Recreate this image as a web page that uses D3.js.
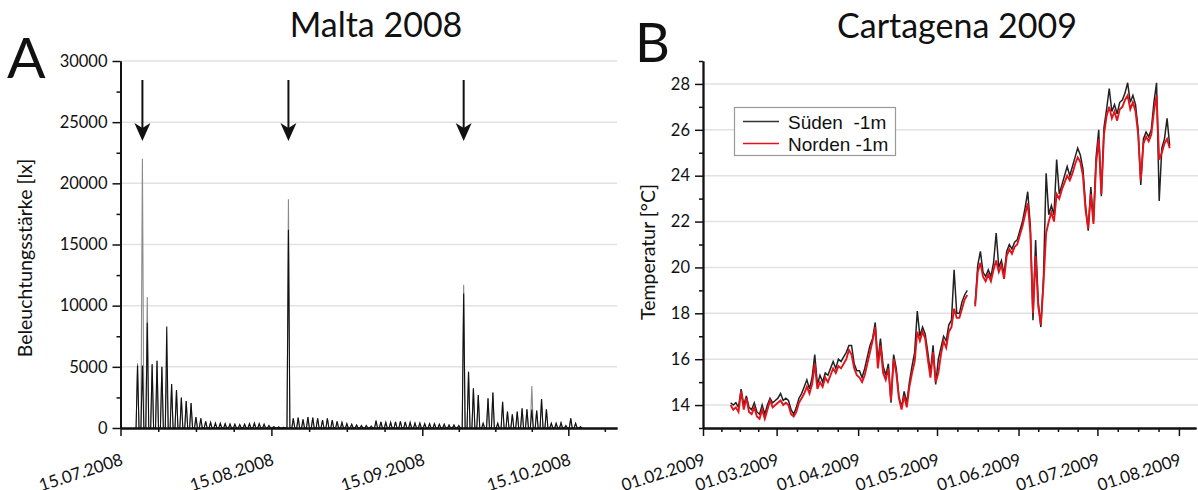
<!DOCTYPE html>
<html><head><meta charset="utf-8">
<script src="https://cdn.jsdelivr.net/npm/d3@7"></script>
<style>
body{margin:0;background:#fff}
svg{display:block}
text{font-family:Lato,"Open Sans",sans-serif;fill:#111}
</style>
</head><body>
<svg id="c" width="1198" height="490"></svg>
<script>
// ---------- Panel A: Malta 2008 (daily illuminance peaks) ----------
const luxStart = "18.07.2008";               // first day with data
const luxBlack = [
  5100, 5100, 8600, 5200, 5500, 5000, 8300, 3600, 3100, 2500,
  2200, 2050, 900, 800, 550, 450, 400, 380, 350, 320,
  300, 280, 300, 350, 400, 350, 300, 200, 100, 80,
  60, 16200, 800, 850, 700, 900, 850, 800, 650, 800,
  650, 550, 450, 350, 300, 250, 200, 200, 150, 600,
  500, 450, 450, 500, 550, 500, 450, 400, 400, 350,
  350, 350, 300, 300, 250, 250, 200, 11000, 4600, 3250,
  2700, 380, 2430, 2890, 380, 2150, 1340, 1120, 1340, 1610,
  1530, 1500, 1420, 2370, 1530, 380, 380, 430, 200, 790,
  380, 100
];
const luxGrey = [
  5300, 22000, 10700, 5200, 5500, 5000, 4800, 3600, 3100, 2500,
  2200, 2050, 900, 800, 550, 450, 400, 380, 350, 320,
  300, 280, 300, 350, 400, 350, 300, 200, 100, 80,
  60, 18700, 800, 850, 700, 900, 850, 800, 650, 800,
  650, 550, 450, 350, 300, 250, 200, 200, 150, 600,
  500, 450, 450, 500, 550, 500, 450, 400, 400, 350,
  350, 350, 300, 300, 250, 250, 200, 11700, 4600, 3250,
  2700, 380, 2430, 2890, 380, 2150, 1340, 1120, 1340, 1610,
  1530, 3430, 1420, 2370, 1530, 380, 380, 430, 200, 790,
  380, 100
];
const arrowDates = ["19.07.2008", "18.08.2008", "23.09.2008"];
const luxTickLabels = ["15.07.2008", "15.08.2008", "15.09.2008", "15.10.2008"];
const luxYTicks = [0, 5000, 10000, 15000, 20000, 25000, 30000];
const luxYMinor = [2500, 7500, 12500, 17500, 22500, 27500];

// ---------- Panel B: Cartagena 2009 (temperature) ----------
const tempStart = "11.02.2009";              // first daily value
const tempSueden = [
  14.1, 14.0, 14.1, 13.9, 14.7, 14.0, 14.4, 13.9, 13.8, 14.1,
  13.7, 13.6, 14.0, 13.6, 14.0, 14.3, 14.1, 14.2, 14.3, 14.5,
  14.2, 14.3, 14.2, 13.8, 13.6, 13.9, 14.3, 14.5, 14.8, 15.1,
  14.7, 15.2, 16.2, 14.9, 15.3, 15.0, 15.4, 15.3, 15.6, 15.9,
  15.6, 16.0, 15.9, 16.1, 16.3, 16.6, 16.6, 15.8, 15.5, 15.5,
  15.2, 15.6, 16.1, 16.6, 16.9, 17.6, 15.9, 16.9, 15.7, 15.3,
  15.8, 14.1, 16.2, 15.6, 14.4, 13.9, 14.6, 14.1, 15.0, 15.7,
  16.3, 18.1, 17.0, 17.4, 17.1, 16.3, 15.4, 16.6, 14.9, 16.0,
  16.5, 17.0, 16.8, 17.5, 17.7, 19.9, 18.0, 18.0, 18.5, 18.8,
  19.0, null, null, 18.4, 20.1, 20.7, 19.8, 19.6, 19.9, 19.6,
  20.2, 21.5, 20.0, 20.3, 19.7, 20.7, 21.0, 20.8, 21.1, 21.2,
  21.6, 22.0, 22.6, 23.3, 21.8, 17.7, 21.2, 18.5, 17.4, 19.6,
  24.1, 22.3, 22.7, 22.3, 24.7, 23.2, 23.6, 24.0, 24.4, 24.0,
  24.4, 24.8, 25.2, 24.9, 24.3, 22.7, 21.6, 23.5, 22.0, 24.8,
  26.0, 23.1, 26.1, 26.9, 27.8, 26.8, 27.1, 26.7, 27.2, 27.3,
  27.6, 28.05, 27.2, 27.5, 27.1, 26.0, 23.6, 25.6, 25.9, 25.7,
  26.0, 27.2, 28.05, 22.9, 25.2, 25.6, 26.5, 25.3
];
const tempNorden = [
  14.0, 13.8, 13.9, 13.7, 14.6, 13.8, 14.3, 13.7, 13.6, 13.9,
  13.5, 13.4, 13.8, 13.4, 13.8, 14.2, 13.9, 14.0, 14.1, 14.2,
  14.0, 14.1, 14.0, 13.6, 13.5, 13.7, 14.1, 14.3, 14.5, 14.8,
  14.5, 14.9, 15.8, 14.7, 15.0, 14.8, 15.2, 15.0, 15.3, 15.6,
  15.4, 15.7, 15.6, 15.8, 16.0, 16.4, 16.2, 15.6, 15.3, 15.2,
  15.0, 15.3, 15.8, 16.3, 16.8, 17.4, 15.6, 16.6, 15.4, 15.1,
  15.6, 14.2, 16.0, 15.4, 14.3, 13.8, 14.4, 13.9, 14.8, 15.4,
  15.9, 17.2, 16.8, 17.2, 16.9, 16.0, 15.2, 16.3, 15.0, 15.4,
  16.2, 16.8, 16.5, 17.2, 17.4, 18.2, 17.8, 17.8, 18.2, 18.6,
  18.8, null, null, 18.3, 19.8, 20.2, 19.6, 19.4, 19.7, 19.4,
  19.9, 20.3, 19.8, 20.1, 19.5, 20.5, 20.8, 20.6, 20.9, 21.0,
  21.4, 21.8, 22.3, 22.8, 21.5, 18.0, 20.5, 18.3, 17.5, 19.3,
  21.5, 22.0, 22.4, 22.0, 23.2, 23.0, 23.4, 23.7, 24.0, 23.8,
  24.1, 24.5, 24.8, 24.6, 24.0, 22.5, 21.7, 23.2, 21.9, 24.5,
  25.6, 23.2, 25.8, 26.6, 27.0, 26.5, 26.8, 26.4, 26.9, 27.0,
  27.3, 27.5, 26.9, 27.2, 26.8, 25.8, 23.8, 25.4, 25.7, 25.5,
  25.8, 26.8, 27.5, 24.7, 25.0, 25.4, 25.6, 25.2
];
const tempSeries = ["Süden  -1m", "Norden -1m"];
const tempTickLabels = ["01.02.2009", "01.03.2009", "01.04.2009", "01.05.2009", "01.06.2009", "01.07.2009", "01.08.2009"];
const tempYTicks = [14, 16, 18, 20, 22, 24, 26, 28];
const tempYMinor = [13, 15, 17, 19, 21, 23, 25, 27, 29];

// ---------- helpers ----------
const parse = d3.utcParse("%d.%m.%Y");
const DAY = 864e5;
const addDays = (date, n) => new Date(date.getTime() + n * DAY);
const svg = d3.select("#c");

function minorDates(majors, domainEnd) {
  const out = [];
  for (let i = 0; i < majors.length; i++) {
    const a = majors[i];
    const b = i < majors.length - 1 ? majors[i + 1] : null;
    const step = b ? (b - a) / 4 : (a - majors[i - 1]) / 4;
    for (let k = 1; k < 4; k++) {
      const t = new Date(a.getTime() + k * step);
      if (t <= domainEnd) out.push(t);
    }
  }
  return out;
}

function styleAxis(g) {
  g.select(".domain").attr("stroke", "#111").attr("stroke-width", 1.8);
  g.selectAll(".tick line").attr("stroke", "#111").attr("stroke-width", 1.5);
  g.selectAll(".tick text").attr("font-size", 16.5).attr("fill", "#222")
    .style("font-family", "Lato, sans-serif");
}

function panel(opts) {
  const {x, y, yTicks, gridX1} = opts;
  const g = svg.append("g");
  g.append("g").selectAll("line").data(yTicks.filter(v => v !== y.domain()[0]))
    .join("line")
    .attr("x1", x.range()[0]).attr("x2", gridX1)
    .attr("y1", d => y(d)).attr("y2", d => y(d))
    .attr("stroke", "#e2e2e2").attr("stroke-width", 1.5);
  return g;
}

function axes(g, x, y, yTicks, yMinor, xMajors, fmt, yFmt) {
  const x0 = x.range()[0], y0 = y.range()[0];
  const end = x.domain()[1];
  g.append("g").attr("transform", `translate(0,${y0})`)
    .call(d3.axisBottom(x).tickValues(minorDates(xMajors, end)).tickSize(4).tickFormat("").tickSizeOuter(0))
    .call(styleAxis);
  const gx = g.append("g").attr("transform", `translate(0,${y0})`)
    .call(d3.axisBottom(x).tickValues(xMajors).tickSize(8).tickFormat(fmt).tickSizeOuter(0))
    .call(styleAxis);
  gx.selectAll(".tick text")
    .attr("x", 0).attr("y", 0).attr("dy", 0)
    .attr("font-size", 17)
    .attr("text-anchor", "end")
    .attr("transform", "translate(3,36.5) rotate(-18)");
  g.append("g").attr("transform", `translate(${x0},0)`)
    .call(d3.axisLeft(y).tickValues(yMinor).tickSize(4).tickFormat("").tickSizeOuter(0))
    .call(styleAxis);
  g.append("g").attr("transform", `translate(${x0},0)`)
    .call(d3.axisLeft(y).tickValues(yTicks).tickSize(8).tickPadding(5).tickFormat(yFmt).tickSizeOuter(0))
    .call(styleAxis);
}

const fmtDate = d3.utcFormat("%d.%m.%Y");

// ================= Panel A =================
const xA = d3.scaleUtc().domain([parse("15.07.2008"), parse("25.10.2008")]).range([120.5, 617]);
const yA = d3.scaleLinear().domain([0, 30000]).range([428, 61]);
const gA = panel({x: xA, y: yA, yTicks: luxYTicks, gridX1: 617});

const s0 = parse(luxStart);
function dailySpikes(vals) {
  const pts = [];
  vals.forEach((v, i) => {
    pts.push({t: addDays(s0, i + 0.2), v: 0});
    pts.push({t: addDays(s0, i + 0.5), v: v});
    pts.push({t: addDays(s0, i + 0.8), v: 0});
  });
  return pts;
}
const lineA = d3.line().x(p => xA(p.t)).y(p => yA(p.v));
gA.append("path").datum(dailySpikes(luxGrey)).attr("d", lineA)
  .attr("fill", "none").attr("stroke", "#8a8a8a").attr("stroke-width", 1.1);
gA.append("path").datum(dailySpikes(luxBlack)).attr("d", lineA)
  .attr("fill", "none").attr("stroke", "#111").attr("stroke-width", 1.1);

axes(gA, xA, yA, luxYTicks, luxYMinor, luxTickLabels.map(parse), fmtDate, d3.format("d"));

// arrows
arrowDates.forEach(s => {
  const ax = xA(addDays(parse(s), 0.5));
  gA.append("line").attr("x1", ax).attr("x2", ax).attr("y1", 80).attr("y2", 130)
    .attr("stroke", "#111").attr("stroke-width", 2);
  gA.append("path")
    .attr("d", `M${ax - 8},123 L${ax},141 L${ax + 8},123 L${ax},128 Z`)
    .attr("fill", "#111");
});

svg.append("text").attr("x", 376).attr("y", 37).attr("text-anchor", "middle")
  .attr("font-size", 34).text("Malta 2008");
svg.append("text").attr("x", 7).attr("y", 78).attr("font-size", 57).text("A");
svg.append("text").attr("transform", "translate(32,258) rotate(-90)")
  .attr("text-anchor", "middle").attr("font-size", 19.5).text("Beleuchtungsstärke [lx]");

// ================= Panel B =================
const xB = d3.scaleUtc().domain([parse("01.02.2009"), addDays(parse("07.08.2009"), 0.5)]).range([703, 1196]);
const yB = d3.scaleLinear().domain([13, 29]).range([428, 61]);
const gB = panel({x: xB, y: yB, yTicks: tempYTicks, gridX1: 1198});

const t0 = parse(tempStart);
const toPts = vals => vals.map((v, i) => ({t: addDays(t0, i + 0.5), v}));
const lineB = d3.line().defined(p => p.v != null).x(p => xB(p.t)).y(p => yB(p.v));
gB.append("path").datum(toPts(tempSueden)).attr("d", lineB)
  .attr("fill", "none").attr("stroke", "#222").attr("stroke-width", 1.5);
gB.append("path").datum(toPts(tempNorden)).attr("d", lineB)
  .attr("fill", "none").attr("stroke", "#e2141b").attr("stroke-width", 1.9);

axes(gB, xB, yB, tempYTicks, tempYMinor, tempTickLabels.map(parse), fmtDate, d3.format("d"));

// legend
const lg = gB.append("g");
lg.append("rect").attr("x", 734.5).attr("y", 107.5).attr("width", 161).attr("height", 48)
  .attr("fill", "#fff").attr("stroke", "#999").attr("stroke-width", 1.2);
const legColors = ["#333", "#e2141b"];
tempSeries.forEach((name, i) => {
  const ly = 121.5 + i * 22;
  lg.append("line").attr("x1", 743).attr("x2", 779).attr("y1", ly).attr("y2", ly)
    .attr("stroke", legColors[i]).attr("stroke-width", 1.3);
  lg.append("text").attr("x", 788).attr("y", ly + 7)
    .attr("font-size", 19).style("font-family", "'Liberation Sans', Arial, sans-serif")
    .style("white-space", "pre").attr("xml:space", "preserve").text(name);
});

svg.append("text").attr("x", 957).attr("y", 38).attr("text-anchor", "middle")
  .attr("font-size", 34).text("Cartagena 2009");
svg.append("text").attr("x", 635).attr("y", 62).attr("font-size", 54).text("B");
svg.append("text").attr("transform", "translate(655,252) rotate(-90)")
  .attr("text-anchor", "middle").attr("font-size", 19.5).text("Temperatur [°C]");
</script>
</body></html>
